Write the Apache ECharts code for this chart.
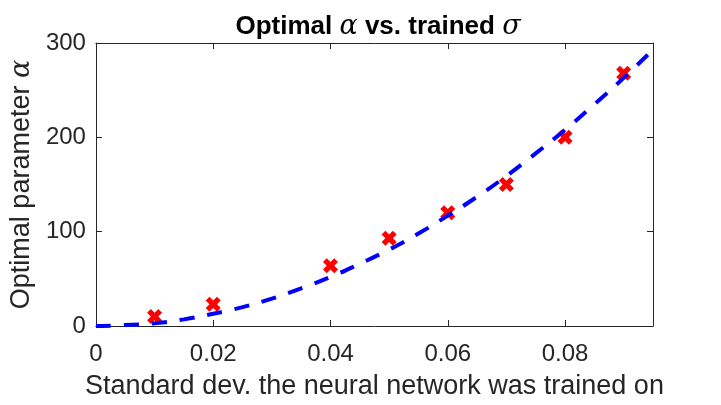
<!DOCTYPE html>
<html>
<head>
<meta charset="utf-8">
<script src="https://cdn.jsdelivr.net/npm/echarts@6/dist/echarts.min.js"></script>
<style>
  html, body { margin: 0; padding: 0; background: #fff; }
  #chart { width: 721px; height: 405px; }
</style>
</head>
<body>
<div id="chart"></div>
<script>
// measured points (sigma, optimal alpha)
var sigmaPts = [0.01, 0.02, 0.04, 0.05, 0.06, 0.07, 0.08, 0.09];
var alphaPts = [10, 23, 64, 93, 120, 150, 200, 268];

// dashed fit curve
var fitX = [0, 0.005, 0.01, 0.015, 0.02, 0.025, 0.03, 0.035, 0.04, 0.045, 0.05,
            0.055, 0.06, 0.065, 0.07, 0.075, 0.08, 0.085, 0.09, 0.095];
var fitY = [0, 1, 3, 7, 13, 20, 29, 40, 52, 66, 81,
            98, 117, 137, 159, 183, 208, 235, 263, 293];

var xTicks = [0, 0.02, 0.04, 0.06, 0.08];
var yTicks = [0, 100, 200, 300];

var axisColor = '#262626';
var font = 'Liberation Sans, Arial, sans-serif';
var greek = { fontFamily: 'DejaVu Serif, serif', fontStyle: 'italic', fontWeight: 'normal' };

function pairs(xs, ys) {
    var out = [];
    for (var i = 0; i < xs.length; i++) out.push([xs[i], ys[i]]);
    return out;
}

var chart = echarts.init(document.getElementById('chart'), null, { renderer: 'canvas' });

var xCommon = {
    type: 'value', min: 0, max: 0.095, interval: 0.02,
    axisLine: { show: true, onZero: false, lineStyle: { color: axisColor, width: 1 } },
    axisTick: { show: true, inside: true, length: 6, lineStyle: { color: axisColor } },
    splitLine: { show: false }
};
var yCommon = {
    type: 'value', min: 0, max: 300, interval: 100,
    axisLine: { show: true, onZero: false, lineStyle: { color: axisColor, width: 1 } },
    axisTick: { show: true, inside: true, length: 6, lineStyle: { color: axisColor } },
    splitLine: { show: false }
};

var option = {
    animation: false,
    backgroundColor: '#fff',
    title: {
        text: 'Optimal {g|α} vs. trained {g|σ}',
        left: 373, top: 8, textAlign: 'center',
        textStyle: {
            fontFamily: font, fontWeight: 'bold', fontSize: 26, color: '#000',
            rich: { g: Object.assign({ fontSize: 27, color: '#000' }, greek) }
        }
    },
    grid: { left: 93, right: 68, top: 43, bottom: 78, containLabel: false },
    xAxis: [
        Object.assign({}, xCommon, {
            position: 'bottom',
            name: 'Standard dev. the neural network was trained on',
            nameLocation: 'middle', nameGap: 47,
            nameTextStyle: { fontFamily: font, fontSize: 27, color: axisColor },
            axisLabel: {
                show: true, margin: 16, fontFamily: font, fontSize: 24, color: axisColor,
                showMaxLabel: false,
                formatter: function (v) { return xTicks.indexOf(v) >= 0 ? String(v) : ''; }
            }
        }),
        Object.assign({}, xCommon, { position: 'top', axisLabel: { show: false } })
    ],
    yAxis: [
        Object.assign({}, yCommon, {
            position: 'left',
            name: 'Optimal parameter {g|α}',
            nameLocation: 'middle', nameGap: 55,
            nameTextStyle: {
                fontFamily: font, fontSize: 27, color: axisColor,
                rich: { g: Object.assign({ fontSize: 27, color: axisColor }, greek) }
            },
            axisLabel: {
                show: true, margin: 10, fontFamily: font, fontSize: 24, color: axisColor,
                formatter: function (v) { return yTicks.indexOf(v) >= 0 ? String(v) : ''; }
            }
        }),
        Object.assign({}, yCommon, { position: 'right', axisLabel: { show: false } })
    ],
    series: [
        {
            type: 'scatter',
            data: pairs(sigmaPts, alphaPts),
            symbol: 'path://M0,2.5 L2.5,0 L5,2.5 L7.5,0 L10,2.5 L7.5,5 L10,7.5 L7.5,10 L5,7.5 L2.5,10 L0,7.5 L2.5,5 Z',
            symbolSize: 15,
            itemStyle: { color: '#ff0000', opacity: 1 },
            z: 2
        },
        {
            type: 'line',
            data: pairs(fitX, fitY),
            smooth: true,
            showSymbol: false,
            lineStyle: { color: '#0000ff', width: 4, type: [15, 13] },
            z: 3
        }
    ]
};

chart.setOption(option);
</script>
</body>
</html>
